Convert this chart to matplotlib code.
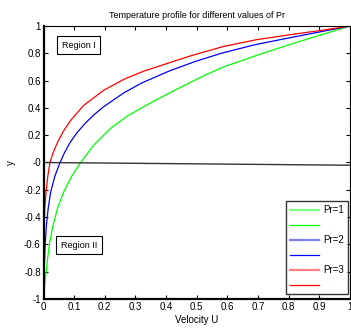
from matplotlib import pyplot as plt
from matplotlib.lines import Line2D
import numpy as np

plt.rcParams['font.family'] = ['Liberation Sans', 'DejaVu Sans']

# values (U, y) for each Prandtl number
y_pr1 = [-1, -0.92, -0.83, -0.71, -0.59, -0.47, -0.34, -0.22, -0.10, 0.0, 0.13,
         0.25, 0.34, 0.41, 0.485, 0.56, 0.59, 0.64, 0.70, 0.785, 0.865, 0.94, 1.0]
u_pr1 = [0, 0.003, 0.007, 0.013, 0.020, 0.030, 0.045, 0.065, 0.092, 0.121, 0.165,
         0.219, 0.273, 0.328, 0.390, 0.455, 0.482, 0.527, 0.587, 0.696, 0.804, 0.913, 1.0]

y_pr2 = [-1, -0.8, -0.62, -0.47, -0.34, -0.22, -0.10, 0.0, 0.07, 0.144, 0.22,
         0.29, 0.35, 0.41, 0.51, 0.58, 0.67, 0.74, 0.80, 0.863, 0.91, 0.956, 1.0]
u_pr2 = [0, 0.002, 0.005, 0.009, 0.015, 0.023, 0.037, 0.054, 0.068, 0.086, 0.110,
         0.137, 0.165, 0.197, 0.262, 0.318, 0.410, 0.495, 0.580, 0.690, 0.795, 0.900, 1.0]

y_pr3 = [-1, -0.53, -0.34, -0.22, -0.10, 0.0, 0.07, 0.144, 0.23, 0.31, 0.42, 0.53,
         0.61, 0.67, 0.75, 0.78, 0.85, 0.90, 0.936, 0.97, 1.0]
u_pr3 = [0, 0.002, 0.004, 0.008, 0.014, 0.021, 0.031, 0.045, 0.065, 0.089, 0.132,
         0.197, 0.263, 0.328, 0.437, 0.478, 0.587, 0.696, 0.804, 0.913, 1.0]

# interface line
u_line = [0, 1]
y_line = [0, -0.02]

legend_labels = ['Pr=1', '', 'Pr=2', '', 'Pr=3', '']

fig = plt.figure(figsize=(3.51, 3.32), dpi=100)
ax = fig.add_axes([0.124, 0.0994, 0.873, 0.8223])

ax.plot(u_pr1, y_pr1, color='#00ff00', lw=0.9)
ax.plot(u_pr2, y_pr2, color='#0000ff', lw=0.9)
ax.plot(u_pr3, y_pr3, color='#ff0000', lw=0.9)
ax.plot(u_line, y_line, color='#333333', lw=1.0)

ax.set_xlim(0, 1)
ax.set_ylim(-1, 1)
xt = np.round(np.arange(0, 1.01, 0.1), 1)
yt = np.round(np.arange(-1, 1.01, 0.2), 1)
ax.set_xticks(xt)
ax.set_yticks(yt)
ax.set_xticklabels(['%g' % v for v in xt])
ax.set_yticklabels(['%g' % v for v in yt])
ax.tick_params(direction='in', length=3, width=0.8, labelsize=7, pad=2,
               top=True, right=True)
for s in ['left', 'bottom']:
    ax.spines[s].set_linewidth(1.6)
for s in ['top', 'right']:
    ax.spines[s].set_linewidth(0.8)

ax.set_title('Temperature profile for different values of Pr', fontsize=6.5, pad=6)
ax.set_xlabel('Velocity U', fontsize=7, labelpad=2)
ax.set_ylabel('y', fontsize=7, labelpad=6)

box = dict(boxstyle='square,pad=0.5', fc='white', ec='black', lw=0.8)
ax.text(0.114, 0.858, 'Region I', fontsize=6.5, ha='center', va='center', bbox=box)
ax.text(0.116, -0.607, 'Region II', fontsize=6.5, ha='center', va='center', bbox=box)

handles = [
    Line2D([], [], color='#80ff80', lw=1.6),
    Line2D([], [], color='#00ff00', lw=0.9),
    Line2D([], [], color='#8080ff', lw=1.6),
    Line2D([], [], color='#0000ff', lw=0.9),
    Line2D([], [], color='#ff8080', lw=1.6),
    Line2D([], [], color='#ff0000', lw=0.9),
]
leg = ax.legend(handles, legend_labels, loc='lower right',
                bbox_to_anchor=(0.993, 0.018), fontsize=7, frameon=True,
                fancybox=False, handlelength=3.0, handletextpad=0.4,
                labelspacing=0.52, borderpad=0.4, borderaxespad=0)
leg.get_frame().set_edgecolor('black')
leg.get_frame().set_linewidth(1.0)

fig.savefig('out.png', dpi=100)
